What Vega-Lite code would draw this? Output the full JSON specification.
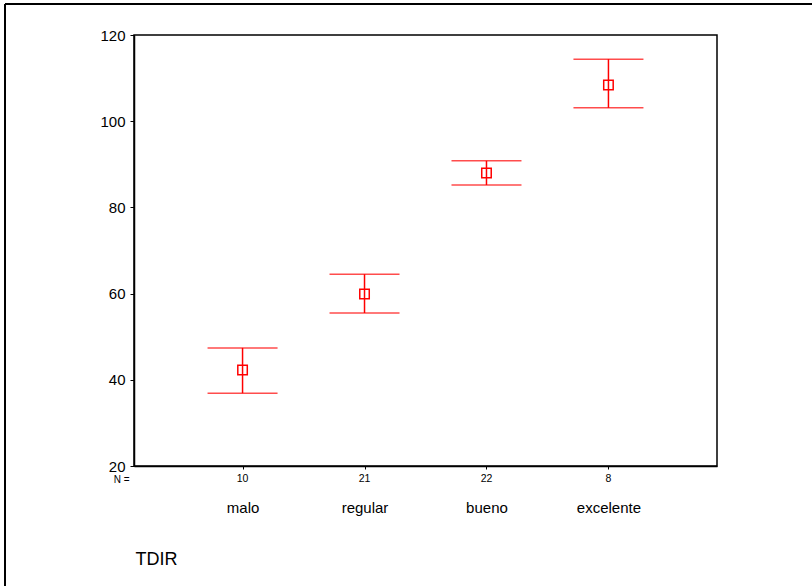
{
  "$schema": "https://vega.github.io/schema/vega-lite/v6.json",
  "width": 583,
  "height": 431,
  "autosize": {"type": "none"},
  "padding": {"left": 134, "top": 35, "right": 95, "bottom": 120},
  "background": "white",
  "config": {
    "font": "Liberation Sans",
    "view": {"stroke": "black", "strokeWidth": 1.5},
    "axis": {"grid": false, "domainColor": "black", "domainWidth": 1.5, "tickColor": "black", "labelColor": "black", "titleColor": "black"}
  },
  "data": {
    "values": [
      {"cat": "malo", "n": "10", "mean": 42.3, "lo": 36.9, "hi": 47.4},
      {"cat": "regular", "n": "21", "mean": 59.9, "lo": 55.5, "hi": 64.5},
      {"cat": "bueno", "n": "22", "mean": 88.0, "lo": 85.2, "hi": 90.8},
      {"cat": "excelente", "n": "8", "mean": 108.4, "lo": 103.1, "hi": 114.4}
    ]
  },
  "encoding": {
    "x": {
      "field": "cat", "type": "nominal", "sort": null,
      "scale": {"type": "point", "padding": 0.89},
      "axis": {
        "labelAngle": 0, "labelFontSize": 15, "labelPadding": 31, "tickSize": 3,
        "title": "TDIR", "titleFontSize": 18, "titleFontWeight": "normal",
        "titleAnchor": "start", "titleAlign": "left", "titleBaseline": "alphabetic",
        "titleX": 1, "titleY": 98
      }
    }
  },
  "layer": [
    {
      "mark": {"type": "rule", "color": "#ff0000", "strokeWidth": 1.5},
      "encoding": {
        "y": {
          "field": "lo", "type": "quantitative",
          "scale": {"domain": [20, 120], "nice": false, "zero": false},
          "axis": {
            "values": [20, 40, 60, 80, 100, 120], "labelFontSize": 15, "tickSize": 4, "labelPadding": 5,
            "title": "N =", "titleAngle": 0, "titleFontSize": 10, "titleFontWeight": "normal",
            "titleAlign": "right", "titleBaseline": "middle", "titleX": -5, "titleY": 444
          }
        },
        "y2": {"field": "hi"}
      }
    },
    {
      "mark": {"type": "tick", "color": "#ff0000", "size": 70, "thickness": 1.5},
      "encoding": {"y": {"field": "lo", "type": "quantitative"}}
    },
    {
      "mark": {"type": "tick", "color": "#ff0000", "size": 70, "thickness": 1.5},
      "encoding": {"y": {"field": "hi", "type": "quantitative"}}
    },
    {
      "mark": {"type": "point", "shape": "square", "filled": false, "color": "#ff0000", "size": 90, "strokeWidth": 1.5, "opacity": 1},
      "encoding": {"y": {"field": "mean", "type": "quantitative"}}
    },
    {
      "mark": {"type": "text", "fontSize": 10.5, "baseline": "middle", "dy": 13, "color": "black"},
      "encoding": {"y": {"datum": 20, "type": "quantitative"}, "text": {"field": "n"}}
    },
    {
      "mark": {"type": "rule", "color": "black", "strokeWidth": 2, "clip": false},
      "encoding": {"x": {"value": -129}, "y": {"value": -31}, "y2": {"value": 560}}
    },
    {
      "mark": {"type": "rule", "color": "black", "strokeWidth": 2, "clip": false},
      "encoding": {"x": {"value": -129}, "x2": {"value": 680}, "y": {"value": -31}}
    }
  ]
}
